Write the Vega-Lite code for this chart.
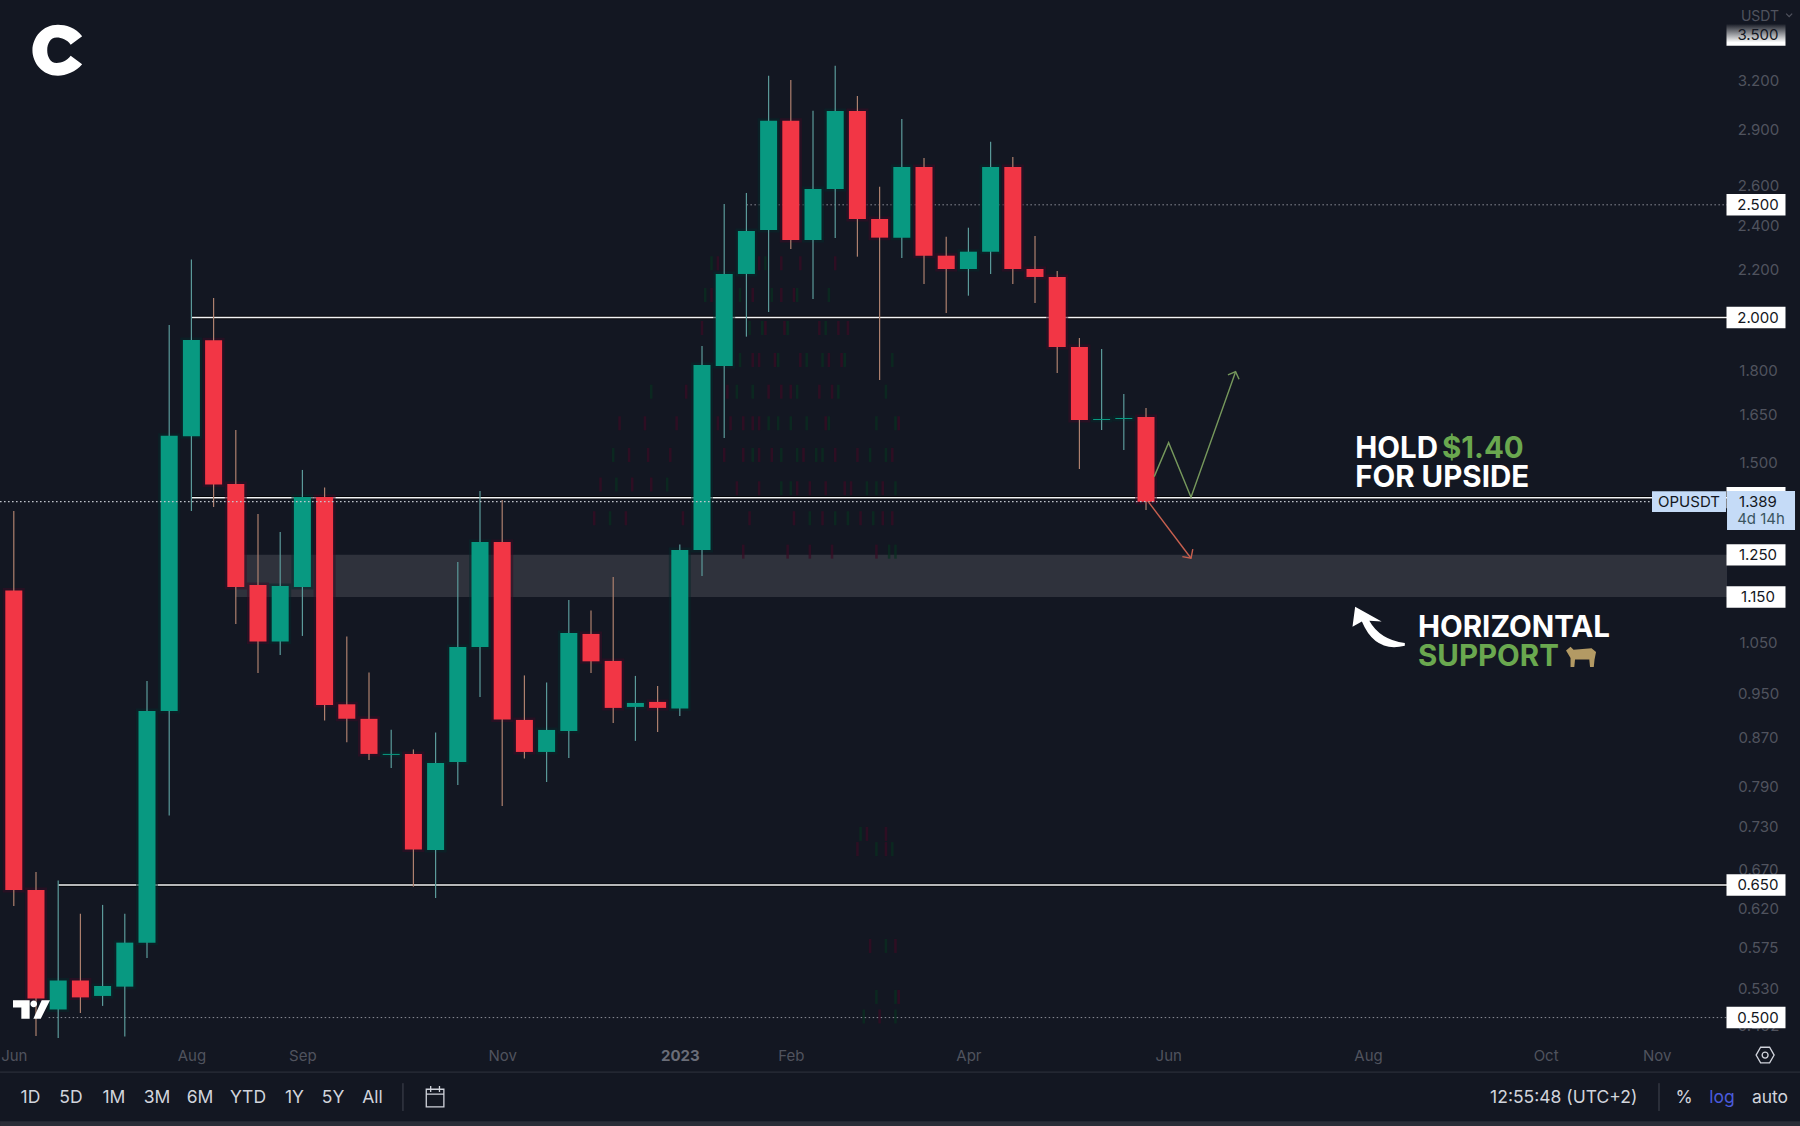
{
  "$schema": "https://vega.github.io/schema/vega-lite/v6.json",
  "width": 1800,
  "height": 1126,
  "padding": 0,
  "autosize": {"type": "none"},
  "background": "#131722",
  "config": {"view": {"stroke": null}, "font": "Inter"},
  "datasets": {
    "candles": [
      {"date":"2022-06-06T00:00:00Z","open":1.1646,"high":1.3636,"low":0.6237,"close":0.6438},
      {"date":"2022-06-13T00:00:00Z","open":0.6438,"high":0.6672,"low":0.4822,"close":0.5192},
      {"date":"2022-06-20T00:00:00Z","open":0.5081,"high":0.6559,"low":0.4803,"close":0.5381},
      {"date":"2022-06-27T00:00:00Z","open":0.5381,"high":0.6142,"low":0.5046,"close":0.5204},
      {"date":"2022-07-04T00:00:00Z","open":0.5219,"high":0.625,"low":0.5117,"close":0.5323},
      {"date":"2022-07-11T00:00:00Z","open":0.5316,"high":0.6142,"low":0.4817,"close":0.58},
      {"date":"2022-07-18T00:00:00Z","open":0.58,"high":0.9738,"low":0.5627,"close":0.9177},
      {"date":"2022-07-25T00:00:00Z","open":0.9177,"high":1.9707,"low":0.746,"close":1.5827},
      {"date":"2022-08-01T00:00:00Z","open":1.5806,"high":2.2431,"low":1.3636,"close":1.913},
      {"date":"2022-08-08T00:00:00Z","open":1.912,"high":2.0789,"low":1.3744,"close":1.4368},
      {"date":"2022-08-15T00:00:00Z","open":1.4385,"high":1.6008,"low":1.0902,"close":1.1731},
      {"date":"2022-08-22T00:00:00Z","open":1.1778,"high":1.3555,"low":0.9894,"close":1.0529},
      {"date":"2022-08-29T00:00:00Z","open":1.0529,"high":1.308,"low":1.0253,"close":1.1754},
      {"date":"2022-09-05T00:00:00Z","open":1.1731,"high":1.4789,"low":1.0646,"close":1.4019},
      {"date":"2022-09-12T00:00:00Z","open":1.4019,"high":1.4285,"low":0.9004,"close":0.9287},
      {"date":"2022-09-19T00:00:00Z","open":0.9298,"high":1.0636,"low":0.8626,"close":0.9036},
      {"date":"2022-09-26T00:00:00Z","open":0.9034,"high":0.9902,"low":0.8328,"close":0.8428},
      {"date":"2022-10-03T00:00:00Z","open":0.8411,"high":0.8843,"low":0.8197,"close":0.8428},
      {"date":"2022-10-10T00:00:00Z","open":0.8428,"high":0.8503,"low":0.648,"close":0.6976},
      {"date":"2022-10-17T00:00:00Z","open":0.6969,"high":0.8793,"low":0.6337,"close":0.8279},
      {"date":"2022-10-24T00:00:00Z","open":0.8296,"high":1.2326,"low":0.7926,"close":1.0417},
      {"date":"2022-10-31T00:00:00Z","open":1.0417,"high":1.4187,"low":0.9435,"close":1.2824},
      {"date":"2022-11-07T00:00:00Z","open":1.2824,"high":1.3936,"low":0.7603,"close":0.9022},
      {"date":"2022-11-14T00:00:00Z","open":0.9015,"high":0.9845,"low":0.8352,"close":0.8461},
      {"date":"2022-11-21T00:00:00Z","open":0.8461,"high":0.9706,"low":0.7973,"close":0.8838},
      {"date":"2022-11-28T00:00:00Z","open":0.882,"high":1.1433,"low":0.8361,"close":1.0709},
      {"date":"2022-12-05T00:00:00Z","open":1.0688,"high":1.1198,"low":0.9894,"close":1.0124},
      {"date":"2022-12-12T00:00:00Z","open":1.0132,"high":1.1965,"low":0.8961,"close":0.9232},
      {"date":"2022-12-19T00:00:00Z","open":0.925,"high":0.9836,"low":0.8648,"close":0.9323},
      {"date":"2022-12-26T00:00:00Z","open":0.9342,"high":0.9643,"low":0.8804,"close":0.9232},
      {"date":"2023-01-02T00:00:00Z","open":0.9219,"high":1.2757,"low":0.9086,"close":1.2622},
      {"date":"2023-01-09T00:00:00Z","open":1.2622,"high":1.8904,"low":1.199,"close":1.8206},
      {"date":"2023-01-16T00:00:00Z","open":1.817,"high":2.5042,"low":1.5756,"close":2.1801},
      {"date":"2023-01-23T00:00:00Z","open":2.1801,"high":2.5594,"low":1.9256,"close":2.3738},
      {"date":"2023-01-30T00:00:00Z","open":2.3786,"high":3.2285,"low":2.0221,"close":2.9533},
      {"date":"2023-02-06T00:00:00Z","open":2.9533,"high":3.2011,"low":2.2907,"close":2.3319},
      {"date":"2023-02-13T00:00:00Z","open":2.3319,"high":3.0123,"low":2.0748,"close":2.5797},
      {"date":"2023-02-20T00:00:00Z","open":2.5797,"high":3.293,"low":2.3412,"close":3.0105},
      {"date":"2023-02-27T00:00:00Z","open":3.0105,"high":3.1013,"low":2.2561,"close":2.4308},
      {"date":"2023-03-06T00:00:00Z","open":2.4308,"high":2.5915,"low":1.7673,"close":2.3427},
      {"date":"2023-03-13T00:00:00Z","open":2.3427,"high":2.9631,"low":2.2503,"close":2.6945},
      {"date":"2023-03-20T00:00:00Z","open":2.6945,"high":2.743,"low":2.1374,"close":2.2605},
      {"date":"2023-03-27T00:00:00Z","open":2.2605,"high":2.3472,"low":2.0181,"close":2.2017},
      {"date":"2023-04-03T00:00:00Z","open":2.2017,"high":2.3893,"low":2.0884,"close":2.2785},
      {"date":"2023-04-10T00:00:00Z","open":2.2785,"high":2.8331,"low":2.1801,"close":2.6945},
      {"date":"2023-04-17T00:00:00Z","open":2.6945,"high":2.7484,"low":2.1374,"close":2.2017},
      {"date":"2023-04-24T00:00:00Z","open":2.2017,"high":2.3505,"low":2.0584,"close":2.1672},
      {"date":"2023-05-01T00:00:00Z","open":2.1672,"high":2.1931,"low":1.792,"close":1.8867},
      {"date":"2023-05-08T00:00:00Z","open":1.8867,"high":1.9206,"low":1.4817,"close":1.6327},
      {"date":"2023-05-15T00:00:00Z","open":1.6327,"high":1.8792,"low":1.6007,"close":1.6359},
      {"date":"2023-05-22T00:00:00Z","open":1.6359,"high":1.719,"low":1.5386,"close":1.6392},
      {"date":"2023-05-29T00:00:00Z","open":1.6425,"high":1.672,"low":1.3663,"close":1.3889}
    ],
    "ghost": [
      {"date":"2023-01-12","price":2.2267,"side":"g"},{"date":"2023-01-14","price":2.2267,"side":"r"},{"date":"2023-01-27","price":2.2267,"side":"r"},{"date":"2023-01-29","price":2.2267,"side":"g"},{"date":"2023-02-03","price":2.2267,"side":"r"},{"date":"2023-02-09","price":2.2267,"side":"r"},{"date":"2023-02-20","price":2.2267,"side":"r"},
      {"date":"2023-01-10","price":2.0913,"side":"g"},{"date":"2023-01-12","price":2.0913,"side":"r"},{"date":"2023-01-21","price":2.0913,"side":"g"},{"date":"2023-01-25","price":2.0913,"side":"r"},{"date":"2023-01-31","price":2.0913,"side":"g"},{"date":"2023-02-03","price":2.0913,"side":"r"},{"date":"2023-02-07","price":2.0913,"side":"r"},{"date":"2023-02-08","price":2.0913,"side":"g"},{"date":"2023-02-18","price":2.0913,"side":"g"},
      {"date":"2023-01-09","price":1.959,"side":"r"},{"date":"2023-01-24","price":1.959,"side":"g"},{"date":"2023-01-28","price":1.959,"side":"g"},{"date":"2023-01-29","price":1.959,"side":"r"},{"date":"2023-02-04","price":1.959,"side":"r"},{"date":"2023-02-05","price":1.959,"side":"g"},{"date":"2023-02-15","price":1.959,"side":"r"},{"date":"2023-02-17","price":1.959,"side":"g"},{"date":"2023-02-21","price":1.959,"side":"r"},{"date":"2023-02-24","price":1.959,"side":"r"},
      {"date":"2023-01-21","price":1.8387,"side":"g"},{"date":"2023-01-25","price":1.8387,"side":"r"},{"date":"2023-01-27","price":1.8387,"side":"r"},{"date":"2023-02-01","price":1.8387,"side":"r"},{"date":"2023-02-02","price":1.8387,"side":"g"},{"date":"2023-02-09","price":1.8387,"side":"r"},{"date":"2023-02-11","price":1.8387,"side":"g"},{"date":"2023-02-16","price":1.8387,"side":"g"},{"date":"2023-02-18","price":1.8387,"side":"r"},{"date":"2023-02-22","price":1.8387,"side":"r"},{"date":"2023-02-23","price":1.8387,"side":"g"},{"date":"2023-03-10","price":1.8387,"side":"g"},
      {"date":"2023-01-17","price":1.7268,"side":"r"},{"date":"2023-01-20","price":1.7268,"side":"g"},{"date":"2023-01-25","price":1.7268,"side":"g"},{"date":"2023-01-30","price":1.7268,"side":"r"},{"date":"2023-02-03","price":1.7268,"side":"r"},{"date":"2023-02-06","price":1.7268,"side":"r"},{"date":"2023-02-08","price":1.7268,"side":"g"},{"date":"2023-02-15","price":1.7268,"side":"r"},{"date":"2023-02-19","price":1.7268,"side":"r"},{"date":"2023-02-21","price":1.7268,"side":"g"},{"date":"2023-03-08","price":1.7268,"side":"g"},
      {"date":"2023-01-14","price":1.6221,"side":"r"},{"date":"2023-01-18","price":1.6221,"side":"r"},{"date":"2023-01-22","price":1.6221,"side":"r"},{"date":"2023-01-25","price":1.6221,"side":"r"},{"date":"2023-01-27","price":1.6221,"side":"r"},{"date":"2023-01-30","price":1.6221,"side":"g"},{"date":"2023-02-02","price":1.6221,"side":"g"},{"date":"2023-02-06","price":1.6221,"side":"g"},{"date":"2023-02-11","price":1.6221,"side":"g"},{"date":"2023-02-17","price":1.6221,"side":"r"},{"date":"2023-02-18","price":1.6221,"side":"g"},{"date":"2023-03-05","price":1.6221,"side":"g"},{"date":"2023-03-11","price":1.6221,"side":"g"},{"date":"2023-03-12","price":1.6221,"side":"r"},
      {"date":"2023-01-16","price":1.5235,"side":"r"},{"date":"2023-01-22","price":1.5235,"side":"r"},{"date":"2023-01-25","price":1.5235,"side":"g"},{"date":"2023-01-27","price":1.5235,"side":"r"},{"date":"2023-01-31","price":1.5235,"side":"r"},{"date":"2023-02-03","price":1.5235,"side":"g"},{"date":"2023-02-08","price":1.5235,"side":"g"},{"date":"2023-02-10","price":1.5235,"side":"r"},{"date":"2023-02-14","price":1.5235,"side":"g"},{"date":"2023-02-16","price":1.5235,"side":"g"},{"date":"2023-02-20","price":1.5235,"side":"r"},{"date":"2023-02-27","price":1.5235,"side":"r"},{"date":"2023-03-03","price":1.5235,"side":"g"},{"date":"2023-03-08","price":1.5235,"side":"g"},{"date":"2023-03-10","price":1.5235,"side":"r"},
      {"date":"2023-01-20","price":1.4262,"side":"r"},{"date":"2023-01-27","price":1.4262,"side":"r"},{"date":"2023-02-03","price":1.4262,"side":"g"},{"date":"2023-02-06","price":1.4262,"side":"g"},{"date":"2023-02-08","price":1.4262,"side":"r"},{"date":"2023-02-12","price":1.4262,"side":"r"},{"date":"2023-02-17","price":1.4262,"side":"r"},{"date":"2023-02-23","price":1.4262,"side":"r"},{"date":"2023-02-25","price":1.4262,"side":"r"},{"date":"2023-03-02","price":1.4262,"side":"g"},{"date":"2023-03-05","price":1.4262,"side":"g"},{"date":"2023-03-07","price":1.4262,"side":"r"},{"date":"2023-03-11","price":1.4262,"side":"g"},
      {"date":"2023-01-24","price":1.344,"side":"r"},{"date":"2023-02-07","price":1.344,"side":"r"},{"date":"2023-02-12","price":1.344,"side":"g"},{"date":"2023-02-16","price":1.344,"side":"r"},{"date":"2023-02-20","price":1.344,"side":"g"},{"date":"2023-02-24","price":1.344,"side":"g"},{"date":"2023-02-28","price":1.344,"side":"r"},{"date":"2023-03-04","price":1.344,"side":"g"},{"date":"2023-03-07","price":1.344,"side":"r"},{"date":"2023-03-10","price":1.344,"side":"r"},
      {"date":"2023-01-22","price":1.258,"side":"r"},{"date":"2023-02-05","price":1.258,"side":"r"},{"date":"2023-02-12","price":1.258,"side":"r"},{"date":"2023-02-19","price":1.258,"side":"r"},{"date":"2023-03-05","price":1.258,"side":"r"},{"date":"2023-03-09","price":1.258,"side":"g"},{"date":"2023-03-11","price":1.258,"side":"g"},
      {"date":"2022-12-08","price":1.4368,"side":"r"},{"date":"2022-12-13","price":1.4368,"side":"g"},{"date":"2022-12-18","price":1.4368,"side":"r"},{"date":"2022-12-24","price":1.4368,"side":"r"},{"date":"2022-12-29","price":1.4368,"side":"g"},
      {"date":"2022-12-06","price":1.344,"side":"r"},{"date":"2022-12-11","price":1.344,"side":"g"},{"date":"2022-12-16","price":1.344,"side":"r"},{"date":"2023-01-03","price":1.344,"side":"r"},
      {"date":"2022-12-12","price":1.5235,"side":"g"},{"date":"2022-12-17","price":1.5235,"side":"r"},{"date":"2022-12-23","price":1.5235,"side":"r"},{"date":"2022-12-30","price":1.5235,"side":"r"},
      {"date":"2022-12-14","price":1.6221,"side":"r"},{"date":"2022-12-22","price":1.6221,"side":"r"},{"date":"2023-01-01","price":1.6221,"side":"r"},
      {"date":"2022-12-24","price":1.7268,"side":"g"},{"date":"2023-01-04","price":1.7268,"side":"r"},
      {"date":"2023-02-28","price":0.7193,"side":"g"},{"date":"2023-03-02","price":0.7193,"side":"r"},{"date":"2023-03-08","price":0.7193,"side":"r"},
      {"date":"2023-02-27","price":0.698,"side":"r"},{"date":"2023-03-05","price":0.698,"side":"g"},{"date":"2023-03-08","price":0.698,"side":"r"},{"date":"2023-03-10","price":0.698,"side":"g"},
      {"date":"2023-03-03","price":0.5762,"side":"r"},{"date":"2023-03-08","price":0.5762,"side":"g"},{"date":"2023-03-11","price":0.5762,"side":"r"},
      {"date":"2023-03-05","price":0.5209,"side":"g"},{"date":"2023-03-11","price":0.5209,"side":"g"},{"date":"2023-03-12","price":0.5209,"side":"r"},
      {"date":"2023-03-01","price":0.5011,"side":"g"},{"date":"2023-03-06","price":0.5011,"side":"r"},{"date":"2023-03-11","price":0.5011,"side":"g"}
    ],
    "solid": [
      {"price":2.0,"date":"2022-08-01T00:00:00Z","end":"2023-11-28T05:00:00Z"},
      {"price":1.4,"date":"2022-08-01T00:00:00Z","end":"2023-11-28T05:00:00Z"},
      {"price":0.65,"date":"2022-06-20T00:00:00Z","end":"2023-11-28T05:00:00Z"}
    ],
    "tags": [
      {"price":2.5,"date":"2023-12-07T08:00:00Z","label":"2.500"},
      {"price":2.0,"date":"2023-12-07T08:00:00Z","label":"2.000"},
      {"price":1.4,"date":"2023-12-07T08:00:00Z","label":""},
      {"price":1.25,"date":"2023-12-07T08:00:00Z","label":"1.250"},
      {"price":1.15,"date":"2023-12-07T08:00:00Z","label":"1.150"},
      {"price":0.65,"date":"2023-12-07T08:00:00Z","label":"0.650"},
      {"price":0.5,"date":"2023-12-07T08:00:00Z","label":"0.500"}
    ],
    "paths": [
      {"path":"up","seq":1,"date":"2023-05-31T14:00:00Z","price":1.4594},
      {"path":"up","seq":2,"date":"2023-06-05T03:00:00Z","price":1.561},
      {"path":"up","seq":3,"date":"2023-06-12T04:30:00Z","price":1.4011},
      {"path":"up","seq":4,"date":"2023-06-26T06:00:00Z","price":1.7967},
      {"path":"uphead","seq":1,"date":"2023-06-23T20:00:00Z","price":1.7849},
      {"path":"uphead","seq":2,"date":"2023-06-26T06:00:00Z","price":1.7967},
      {"path":"uphead","seq":3,"date":"2023-06-27T08:00:00Z","price":1.7699},
      {"path":"down","seq":1,"date":"2023-05-29T17:00:00Z","price":1.3889},
      {"path":"down","seq":2,"date":"2023-06-12T04:30:00Z","price":1.2416},
      {"path":"downhead","seq":1,"date":"2023-06-09T11:00:00Z","price":1.2456},
      {"path":"downhead","seq":2,"date":"2023-06-12T04:30:00Z","price":1.2416},
      {"path":"downhead","seq":3,"date":"2023-06-12T18:00:00Z","price":1.264}
    ]
  },
  "encoding": {
    "x": {
      "field": "date",
      "type": "temporal",
      "scale": {"type": "utc", "domain": [1654097760000, 1703134800000], "nice": false, "padding": 0},
      "axis": {
        "title": null,
        "orient": "bottom",
        "offset": -71,
        "grid": false,
        "domain": false,
        "ticks": false,
        "labelPadding": 0,
        "labelBaseline": "middle",
        "labelAlign": "center",
        "labelOverlap": false,
        "labelBound": false,
        "labelFlush": false,
        "labelFontSize": 15,
        "labelColor": {"condition": {"test": "utcmonth(datum.value)==0", "value": "#6a6d78"}, "value": "#50535e"},
        "labelFontWeight": {"condition": {"test": "utcmonth(datum.value)==0", "value": "bold"}, "value": "normal"},
        "labelExpr": "utcmonth(datum.value)==0 ? '2023' : utcFormat(datum.value, '%b')",
        "values": [
          {"year":2022,"month":6,"date":6,"utc":true},
          {"year":2022,"month":8,"date":1,"utc":true},
          {"year":2022,"month":9,"date":5,"utc":true},
          {"year":2022,"month":11,"date":7,"utc":true},
          {"year":2023,"month":1,"date":2,"utc":true},
          {"year":2023,"month":2,"date":6,"utc":true},
          {"year":2023,"month":4,"date":3,"utc":true},
          {"year":2023,"month":6,"date":5,"utc":true},
          {"year":2023,"month":8,"date":7,"utc":true},
          {"year":2023,"month":10,"date":2,"utc":true},
          {"year":2023,"month":11,"date":6,"utc":true}
        ]
      }
    },
    "y": {
      "field": "price",
      "type": "quantitative",
      "scale": {"type": "log", "domain": [0.4034, 3.7505], "nice": false},
      "axis": {
        "title": null,
        "orient": "right",
        "offset": -42,
        "grid": false,
        "domain": false,
        "ticks": false,
        "labelPadding": 0,
        "labelAlign": "center",
        "labelOverlap": false,
        "labelBound": false,
        "labelFlush": false,
        "labelFontSize": 15,
        "labelColor": "#50535e",
        "format": ".3f",
        "values": [3.2, 2.9, 2.6, 2.4, 2.2, 1.8, 1.65, 1.5, 1.05, 0.95, 0.87, 0.79, 0.73, 0.67, 0.62, 0.575, 0.53, 0.492]
      }
    }
  },
  "layer": [
    {
      "data": {"values": [{"date":"2022-08-15T00:00:00Z","end":"2023-11-28T05:00:00Z","price":1.25,"low":1.15}]},
      "mark": {"type": "rect", "color": "#2f323c"},
      "encoding": {"x2": {"field": "end"}, "y2": {"field": "low"}}
    },
    {
      "data": {"values": [{"date":"2022-06-01T16:00:00Z","end":"2023-12-22T00:00:00Z","price":0.4073,"low":0.4034}]},
      "mark": {"type": "rect", "color": "#2a2d37"},
      "encoding": {"x2": {"field": "end"}, "y2": {"field": "low"}}
    },
    {
      "data": {"values": [{"date":"2022-06-01T16:00:00Z","end":"2023-12-22T00:00:00Z","price":0.4488}]},
      "mark": {"type": "rule", "color": "#2a2e39", "strokeWidth": 1.2},
      "encoding": {"x2": {"field": "end"}}
    },
    {
      "data": {"name": "ghost"},
      "mark": {"type": "tick", "orient": "vertical", "size": 14, "thickness": 2.5},
      "encoding": {
        "color": {"condition": {"test": "datum.side=='g'", "value": "#08301f"}, "value": "#3a0c24"}
      }
    },
    {
      "data": {"values": [
        {"date":"2023-01-23T00:00:00Z","end":"2023-11-28T05:00:00Z","price":2.5},
        {"date":"2022-06-17T00:00:00Z","end":"2023-11-28T05:00:00Z","price":0.5}
      ]},
      "mark": {"type": "rule", "color": "#8b8e97", "strokeWidth": 1, "strokeDash": [1.5, 2.5]},
      "encoding": {"x2": {"field": "end"}}
    },
    {
      "data": {"name": "solid"},
      "mark": {"type": "rule", "color": "#000000", "opacity": 0.75, "strokeWidth": 3.4},
      "encoding": {"x2": {"field": "end"}}
    },
    {
      "data": {"name": "solid"},
      "mark": {"type": "rule", "color": "#f2f3f5", "strokeWidth": 1.5},
      "encoding": {"x2": {"field": "end"}}
    },
    {
      "data": {"name": "candles"},
      "mark": {"type": "bar", "width": 17, "strokeWidth": 5, "opacity": 0.55},
      "encoding": {
        "y": {"field": "open", "type": "quantitative"},
        "y2": {"field": "close"},
        "color": {"condition": {"test": "datum.close>=datum.open", "value": "#06282a"}, "value": "#3a0c24"},
        "stroke": {"condition": {"test": "datum.close>=datum.open", "value": "#06282a"}, "value": "#3a0c24"}
      }
    },
    {
      "data": {"name": "candles"},
      "mark": {"type": "rule", "strokeWidth": 1.2},
      "encoding": {
        "y": {"field": "low", "type": "quantitative"},
        "y2": {"field": "high"},
        "color": {"condition": {"test": "datum.close>=datum.open", "value": "#5b9a9a"}, "value": "#ad806e"}
      }
    },
    {
      "data": {"name": "candles"},
      "mark": {"type": "bar", "width": 17},
      "encoding": {
        "y": {"field": "open", "type": "quantitative"},
        "y2": {"field": "close"},
        "color": {"condition": {"test": "datum.close>=datum.open", "value": "#089981"}, "value": "#f23645"}
      }
    },
    {
      "data": {"values": [{"date":"2022-06-01T16:00:00Z","end":"2023-11-28T05:00:00Z","price":1.389}]},
      "mark": {"type": "rule", "color": "#c9ccd3", "strokeWidth": 1.2, "strokeDash": [1.5, 2.5]},
      "encoding": {"x2": {"field": "end"}}
    },
    {
      "data": {"name": "paths"},
      "transform": [{"filter": "indexof(datum.path,'up')==0"}],
      "mark": {"type": "line", "color": "#76985c", "strokeWidth": 1.4},
      "encoding": {"detail": {"field": "path"}, "order": {"field": "seq"}}
    },
    {
      "data": {"name": "paths"},
      "transform": [{"filter": "indexof(datum.path,'down')==0"}],
      "mark": {"type": "line", "color": "#c8604f", "strokeWidth": 1.4},
      "encoding": {"detail": {"field": "path"}, "order": {"field": "seq"}}
    },
    {
      "data": {"values": [{"date":"2023-12-07T08:00:00Z","price":3.5}]},
      "mark": {
        "type": "point", "filled": true, "opacity": 1, "size": 3481,
        "shape": "M-1,-0.364 L1,-0.364 L1,0.364 L-1,0.364 Z",
        "fill": {"gradient": "linear", "x1": 0, "y1": 0, "x2": 0, "y2": 1, "stops": [{"offset": 0, "color": "#1a1e28"}, {"offset": 0.85, "color": "#ffffff"}]}
      }
    },
    {
      "data": {"name": "tags"},
      "mark": {
        "type": "point", "filled": true, "opacity": 1, "size": 3481, "color": "#ffffff",
        "shape": "M-1,-0.364 L1,-0.364 L1,0.364 L-1,0.364 Z"
      }
    },
    {
      "data": {"values": [{"date":"2023-11-16T05:00:00Z","price":1.3889}]},
      "mark": {
        "type": "point", "filled": true, "opacity": 1, "size": 5476, "color": "#c5dbf7",
        "shape": "M-1,-0.278 L1,-0.278 L1,0.278 L-1,0.278 Z"
      }
    },
    {
      "data": {"values": [{"date":"2023-12-08T22:00:00Z","price":1.3649}]},
      "mark": {
        "type": "point", "filled": true, "opacity": 1, "size": 4624, "color": "#c5dbf7",
        "shape": "M-1,-0.574 L1,-0.574 L1,0.574 L-1,0.574 Z"
      }
    },
    {
      "data": {"name": "tags"},
      "mark": {"type": "text", "color": "#131722", "fontSize": 15, "dx": 2, "align": "center", "baseline": "middle"},
      "encoding": {"text": {"field": "label"}}
    },
    {
      "data": {"values": [
        {"date":"2023-12-07T23:00:00Z","price":3.5,"label":"3.500"},
        {"date":"2023-12-07T23:00:00Z","price":1.3889,"label":"1.389"},
        {"date":"2023-11-16T05:00:00Z","price":1.3889,"label":"OPUSDT"}
      ]},
      "mark": {"type": "text", "color": "#131722", "fontSize": 15, "align": "center", "baseline": "middle"},
      "encoding": {"text": {"field": "label"}}
    },
    {
      "data": {"values": [{"date":"2023-12-08T22:00:00Z","price":1.3413,"label":"4d 14h"}]},
      "mark": {"type": "text", "color": "#3a5560", "fontSize": 15, "align": "center", "baseline": "middle"},
      "encoding": {"text": {"field": "label"}}
    },
    {
      "data": {"values": [{"date":"2023-12-08T14:00:00Z","price":3.6285,"label":"USDT"}]},
      "mark": {"type": "text", "color": "#50535e", "fontSize": 14, "align": "center", "baseline": "middle"},
      "encoding": {"text": {"field": "label"}}
    },
    {
      "data": {"values": [{"date":"2023-12-17T19:00:00Z","price":3.6394}]},
      "mark": {"type": "point", "filled": false, "opacity": 1, "size": 36, "stroke": "#50535e", "strokeWidth": 1.2, "shape": "M-1,-0.5 L0,0.5 L1,-0.5"}
    },
    {
      "data": {"values": [
        {"date":"2023-08-02T23:00:00Z","price":1.5144,"label":"HOLD"},
        {"date":"2023-08-30T08:00:00Z","price":1.5144,"label":"$1.40"},
        {"date":"2023-08-02T23:00:00Z","price":1.4308,"label":"FOR UPSIDE"},
        {"date":"2023-08-22T18:00:00Z","price":1.0632,"label":"HORIZONTAL"},
        {"date":"2023-08-22T18:00:00Z","price":1.0032,"label":"SUPPORT"}
      ]},
      "mark": {"type": "text", "fontSize": 29.5, "fontWeight": 700, "align": "left", "baseline": "alphabetic"},
      "encoding": {
        "text": {"field": "label"},
        "color": {"condition": {"test": "datum.label=='$1.40'||datum.label=='SUPPORT'", "value": "#6aa84f"}, "value": "#ffffff"}
      }
    },
    {
      "data": {"values": [{"date":"2023-08-10T06:00:00Z","price":1.0844}]},
      "mark": {
        "type": "point", "filled": true, "opacity": 1, "size": 2809, "color": "#ffffff",
        "shape": "M-0.875,-0.75 L0.125,-0.19 L-0.34,-0.22 Q0.06,0.5 1,0.62 L1,0.72 Q-0.125,1 -0.62,-0.19 L-0.975,0 Z"
      }
    },
    {
      "data": {"values": [{"date":"2023-10-13T04:00:00Z","price":1.0253}]},
      "mark": {
        "type": "point", "filled": true, "opacity": 1, "size": 900, "color": "#b39a64",
        "shape": "M-1,-0.3 L-0.7,-0.55 L-0.5,-0.35 L0.7,-0.45 L1,-0.2 L0.9,0.3 L0.85,0.8 L0.6,0.8 L0.55,0.3 L-0.4,0.3 L-0.45,0.8 L-0.7,0.8 L-0.7,0.2 Z"
      }
    },
    {
      "data": {"values": [{"date":"2022-06-19T22:00:00Z","price":3.3953}]},
      "mark": {
        "type": "point", "filled": true, "opacity": 1, "size": 2601, "color": "#ffffff",
        "shape": "M0.95,-0.55 C0.7,-0.9 0.3,-1 0,-1 C-0.6,-1 -1,-0.5 -1,0 C-1,0.5 -0.6,1 0,1 C0.3,1 0.7,0.85 0.95,0.55 L0.5,0.22 C0.35,0.42 0.15,0.5 -0.05,0.5 C-0.3,0.5 -0.42,0.25 -0.42,0 C-0.42,-0.25 -0.3,-0.5 -0.05,-0.5 C0.15,-0.5 0.35,-0.42 0.5,-0.22 Z"
      }
    },
    {
      "data": {"values": [{"date":"2022-06-11T14:00:00Z","price":0.5081}]},
      "mark": {
        "type": "point", "filled": true, "opacity": 1, "size": 1369, "color": "#ffffff",
        "shape": "M-1,-0.5 L-0.1,-0.5 L-0.1,0.5 L-0.55,0.5 L-0.55,-0.1 L-1,-0.1 Z M0.3,-0.3 A0.18,0.18 0 1 1 -0.06,-0.3 A0.18,0.18 0 1 1 0.3,-0.3 Z M0.55,-0.5 L1,-0.5 L0.5,0.5 L0.1,0.5 Z"
      }
    },
    {
      "data": {"values": [
        {"date":"2022-06-11T06:00:00Z","price":0.4263,"label":"1D"},
        {"date":"2022-06-24T01:00:00Z","price":0.4263,"label":"5D"},
        {"date":"2022-07-07T14:00:00Z","price":0.4263,"label":"1M"},
        {"date":"2022-07-21T04:00:00Z","price":0.4263,"label":"3M"},
        {"date":"2022-08-03T17:00:00Z","price":0.4263,"label":"6M"},
        {"date":"2022-08-18T20:00:00Z","price":0.4263,"label":"YTD"},
        {"date":"2022-09-02T12:00:00Z","price":0.4263,"label":"1Y"},
        {"date":"2022-09-14T16:00:00Z","price":0.4263,"label":"5Y"},
        {"date":"2022-09-27T03:00:00Z","price":0.4263,"label":"All"},
        {"date":"2023-10-07T17:00:00Z","price":0.4263,"label":"12:55:48 (UTC+2)"},
        {"date":"2023-11-14T16:00:00Z","price":0.4263,"label":"%"},
        {"date":"2023-11-26T15:00:00Z","price":0.4263,"label":"log"},
        {"date":"2023-12-11T18:00:00Z","price":0.4263,"label":"auto"}
      ]},
      "mark": {"type": "text", "fontSize": 17.5, "align": "center", "baseline": "middle"},
      "encoding": {
        "text": {"field": "label"},
        "color": {"condition": {"test": "datum.label=='log'", "value": "#4a5bdc"}, "value": "#d1d4dc"}
      }
    },
    {
      "data": {"values": [
        {"date":"2022-10-06T17:00:00Z","price":0.4391,"low":0.4156},
        {"date":"2023-11-06T18:00:00Z","price":0.4391,"low":0.4156}
      ]},
      "mark": {"type": "rule", "color": "#434651", "strokeWidth": 1},
      "encoding": {"y2": {"field": "low"}}
    },
    {
      "data": {"values": [{"date":"2022-10-16T20:00:00Z","price":0.4273}]},
      "mark": {
        "type": "point", "filled": false, "opacity": 1, "size": 484, "stroke": "#d1d4dc", "strokeWidth": 1.3,
        "shape": "M-0.8,-0.7 L0.8,-0.7 L0.8,0.9 L-0.8,0.9 Z M-0.8,-0.25 L0.8,-0.25 M-0.4,-1 L-0.4,-0.45 M0.4,-1 L0.4,-0.45"
      }
    },
    {
      "data": {"values": [{"date":"2023-12-10T05:00:00Z","price":0.4642}]},
      "mark": {
        "type": "point", "filled": false, "opacity": 1, "size": 324, "stroke": "#d1d4dc", "strokeWidth": 1.3,
        "shape": "M-0.5,-0.87 L0.5,-0.87 L1,0 L0.5,0.87 L-0.5,0.87 L-1,0 Z M0.33,0 A0.33,0.33 0 1 1 -0.33,0 A0.33,0.33 0 1 1 0.33,0 Z"
      }
    }
  ]
}
